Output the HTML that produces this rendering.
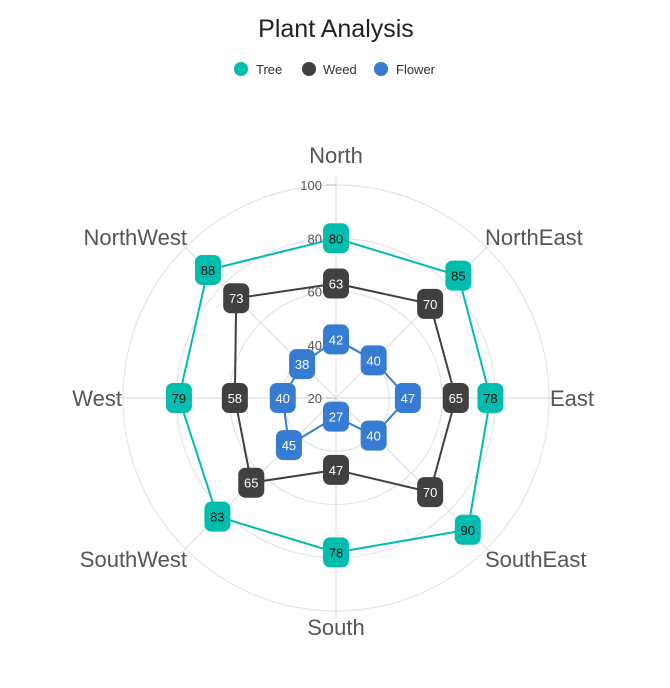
<!DOCTYPE html>
<html><head><meta charset="utf-8"><style>
body{margin:0;background:#fff;font-family:"Liberation Sans",sans-serif;}
svg text{font-family:"Liberation Sans",sans-serif;}
</style></head><body>
<svg id="c" width="670" height="683">
<text x="336" y="37" text-anchor="middle" font-size="25" fill="#222">Plant Analysis</text>
<g>
<g><circle cx="241" cy="69" r="7" fill="#00bdae"/><text x="256" y="74" font-size="13" fill="#333">Tree</text></g>
<g><circle cx="309" cy="69" r="7" fill="#404041"/><text x="323" y="74" font-size="13" fill="#333">Weed</text></g>
<g><circle cx="381" cy="69" r="7" fill="#357cd2"/><text x="396" y="74" font-size="13" fill="#333">Flower</text></g>
</g>
<g id="plot"></g>
</svg>
<script>
const categories=["North","NorthEast","East","SouthEast","South","SouthWest","West","NorthWest"];
const treeValues=[80,85,78,90,78,83,79,88];
const weedValues=[63,70,65,70,47,65,58,73];
const flowerValues=[42,40,47,40,27,45,40,38];
const tickLabels=[20,40,60,80,100];
const cx=336,cy=398,R=213,vmin=20,vmax=100,LR=222;
const NS="http://www.w3.org/2000/svg";
const plot=document.getElementById('plot');
function r(v){return (v-vmin)/(vmax-vmin)*R;}
function ang(i){return -Math.PI/2+i*2*Math.PI/categories.length;}
function pt(i,v){return [cx+r(v)*Math.cos(ang(i)),cy+r(v)*Math.sin(ang(i))];}
function mk(tag,attrs,parent){const e=document.createElementNS(NS,tag);for(const k in attrs)e.setAttribute(k,attrs[k]);(parent||plot).appendChild(e);return e;}
tickLabels.forEach(t=>{if(t>vmin){const c=mk('circle',{cx:cx,cy:cy,r:r(t),fill:'none',stroke:'#e4e4ea','stroke-width':1.2});

}});
categories.forEach((c,i)=>{const p=pt(i,vmax+3);const l=mk('line',{x1:cx,y1:cy,x2:p[0],y2:p[1],stroke:'#e0e0e6','stroke-width':1.2});


const a=ang(i),px=cx+LR*Math.cos(a),py=cy+LR*Math.sin(a);
const cs=Math.cos(a),sn=Math.sin(a);
let anchor='middle',x=px,y=py+8;
if(cs>0.1){anchor='start';x=px-8;}else if(cs<-0.1){anchor='end';x=px+8;}
if(sn<-0.9)y=py-13;else if(sn>0.9)y=py+15;else if(sn<-0.1)y=py+4;else if(sn>0.1)y=py+12;
const t=mk('text',{x:x,y:y,'text-anchor':anchor,'font-size':22,fill:'#555'});t.textContent=c;

});
tickLabels.forEach(t=>{const y=cy-r(t);mk('line',{x1:cx-10,y1:y,x2:cx,y2:y,stroke:'#bbb'});
const tx=mk('text',{x:cx-14,y:y+5,'text-anchor':'end','font-size':13,fill:'#555'});tx.textContent=t;

});
function series(name,vals,color,txt){
const g=mk('g',{});


const pts=vals.map((v,i)=>pt(i,v));
const pl=mk('polygon',{points:pts.map(p=>p.join(',')).join(' '),fill:'none',stroke:color,'stroke-width':2},g);


vals.forEach((v,i)=>{const p=pts[i];
const m=mk('g',{},g);


mk('rect',{x:p[0]-13,y:p[1]-15,width:26,height:30,rx:7,fill:color},m);
const t=mk('text',{x:p[0],y:p[1]+5,'text-anchor':'middle','font-size':13,fill:txt},m);t.textContent=v;});
}
series('tree',treeValues,'#00bdae','#111');
series('weed',weedValues,'#404041','#fff');
series('flower',flowerValues,'#357cd2','#fff');
</script>
</body></html>
